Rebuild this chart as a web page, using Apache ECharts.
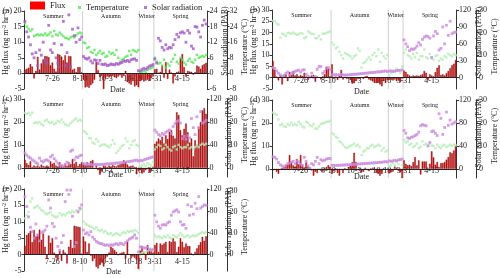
<!DOCTYPE html>
<html><head><meta charset="utf-8">
<script src="https://cdn.jsdelivr.net/npm/echarts@6/dist/echarts.min.js"></script>
<style>html,body{margin:0;padding:0;background:#fff}#c{width:500px;height:278px}</style>
</head><body><div id="c"></div>
<script>
// ---------- categories ----------
const dates = ['7-11','7-12','7-13','7-14','7-15','7-16','7-17','7-18','7-19','7-20','7-21','7-22','7-23','7-24','7-25','7-26','7-27','7-28','7-29','7-30','7-31','8-1','8-2','8-3','8-4','8-5','8-6','8-7','8-8','8-9','8-10','8-11',
'9-21','9-22','9-23','9-24','9-25','9-26','9-27','9-28','9-29','9-30','10-1','10-2','10-3','10-4','10-5','10-6','10-7','10-8','10-9','10-10','10-11','10-12','10-13','10-14','10-15','10-16','10-17','10-18','10-19','10-20','10-21',
'1-10','1-11','1-12','1-13','1-14','1-15','1-16','1-17',
'3-31','4-1','4-2','4-3','4-4','4-5','4-6','4-7','4-8','4-9','4-10','4-11','4-12','4-13','4-14','4-15','4-16','4-17','4-18','4-19','4-20','4-21','4-22','4-23','4-24','4-25','4-26','4-27','4-28'];
const tickDates = ['7-26','8-10','10-3','10-18','3-31','4-15'];
const seasons = ['Summer','Autumn','Winter','Spring'];
const seasonFirstDate = ['7-11','9-21','1-10','3-31'];
const panelLabels = ['(a)','(b)','(c)','(d)','(e)'];
// ---------- tick labels ----------
const solarTicksB = [0,30,60,90,120];
const solarTicksCDE = [0,40,80,120];
const tempTicksBCDE = [0,10,20,30];
const fluxTicksCD = [0,10,20,30];

// ---------- panel (a) ----------
const fluxA = [1.2,1.5,1.8,3.0,2.2,-1.6,0.8,5.3,1.2,3.2,4.5,5.6,5.5,5.2,2.6,3.5,1.5,0.6,6.2,6.0,5.4,4.2,5.8,3.5,5.6,5.5,1.2,1.5,0.4,2.0,2.0,0.3,
 -2.0,-4.5,-4.3,-4.6,-3.8,-3.2,-2.0,3.6,1.0,-1.2,-0.8,-5.0,-1.5,-1.0,-1.3,-1.0,-0.8,-1.2,-1.5,-1.0,-0.6,-1.4,-0.8,0.8,-2.8,-3.2,-3.6,-2.5,-4.2,-3.8,-4.4,
 -2.5,-2.0,-2.6,-2.3,-2.0,-2.4,-1.5,-1.0,
 1.3,1.5,0.2,0.5,2.6,-1.4,3.6,-1.8,1.2,0.3,-3.2,-1.0,0.4,0.6,4.8,6.2,2.0,-1.0,0.8,0.6,0.5,-0.4,0.4,2.5,2.2,1.5,2.6,3.0,3.4];
const tempA = [25.6,24,22.9,21.7,22.6,19.1,19.6,20,19.5,20,19.5,20.5,19.5,20,21,19,21.7,20,19.5,20.9,20,19,18.3,18,17.5,18.5,19,18.5,19.5,20.5,21,20.5,
 15.8,15.5,13,13.5,11,10.5,12,9.5,10.5,11.5,10,10.5,8.5,9,11,10,10.5,9.5,12,8,6,7,7.5,8.5,9,11.5,9.5,12,11.5,11,12,
 0.3,0.8,1.2,0.5,1.8,2.5,2.8,3.2,
 8,6,5,5.5,4,7,3,5,4,6,7.5,9.5,6,5,8,7,5.5,4.5,6.5,7.5,6,5.5,7,9.5,8,8.5,9,8.5,9.5];
const solarA = [20,16,14,11,7.5,6,8,3,9,7,12,5,4,18.5,9,8,11.5,6,4,2.5,11,20,3,8,22.5,2.5,17,14.5,12,17.5,13,14,
 6.5,5.8,5.5,6.0,4.8,4.0,5.2,5.0,3.8,5.0,3.5,3.4,3.6,3.0,3.2,3.6,3.4,3.3,3.8,3.5,3.9,4.2,4.8,4.6,5.0,4.5,5.2,5.5,5.6,5.0,1.0,
 1.0,1.5,2.0,1.6,2.2,2.8,3.0,3.4,
 5.5,4,13.5,12.5,10,9,11,9.5,10,9.8,11,13,15,14,15.6,16,15.5,12,16.5,15.5,10.5,9.5,18,17.8,16,14,18.5,20.5,19];

// ---------- panel (b) ----------
const fluxB = [7.4,3.5,0.5,-1.2,1.0,-3.0,1.0,1.5,-1.5,2.5,1.2,3.0,1.0,1.5,0.6,1.2,0.8,2.2,0.5,-1.0,0.4,1.0,1.2,-1.8,0.5,0.3,-0.8,0.6,1.5,4.8,4.0,0.6,
 5.9,-0.4,0.5,-1.0,1.0,3.4,-0.8,0.4,-0.5,-0.3,-1.0,-2.6,-2.4,-1.2,-0.6,-0.4,0.3,-0.5,0.6,0.8,-0.8,-1.2,-1.6,-2.0,-2.4,-2.2,-3.0,-3.8,-1.5,-2.0,-1.0,
 -0.5,-1.0,-1.2,-0.8,-1.5,-1.0,-2.0,-0.3,
 3.2,2.6,1.5,1.0,0.6,1.0,0.8,1.0,0.8,1.2,1.5,3.0,2.2,-1.0,1.5,1.0,0.6,2.5,4.4,5.5,1.2,1.5,1.0,2.0,3.0,4.2,5.5,6.2,7.8];
const tempB = [25.2,25,24,23.5,17.8,19.5,19.2,18.5,19.8,19.8,19.5,20,19.5,19,19.3,19.8,19.5,17.5,18,20.5,20,19.5,19.3,17.5,17.5,18.5,17,19.5,19.5,19.8,20.2,20.5,
 15.5,14.5,13,13.5,11.5,10,8.5,11,10.5,10,9.5,8.5,9.5,10,13,12,4.5,6.5,7,8,9,8,10,11,9.5,12.5,7,11,9.5,8.5,10,
 1,2,3,2.5,4,3.5,2,5,
 11,12.5,10,9.5,8.5,10.5,9,11,8,9.5,9.5,12.5,9,8.5,10.5,8.5,8,9.5,10,7.5,8.5,8,9.5,9,10.5,10,9.5,10.5,10];
const solarB = [18,16.5,12,8,5,2.5,4,7.5,10,4.5,8,9,11,12.5,13.5,10,13.5,14,6,3,1,8,0.5,2,15,20,19.5,8,11,17,18,15,
 5,5,5.5,5,5,5.5,5,4.5,4.8,5,5.5,6,6,6.2,6.5,7,7.2,7.5,8,8.2,8.5,9,9.2,9.5,10,10.5,10.2,11,11.5,12,11,
 12,12,11,12,12.5,13,13,14,
 67,60,55,48,51,50,52,56,62,58,68,72,74,73,70,36,74,82,78,49,52,90,60,93,75,100,78,80,81];

// ---------- panel (c) ----------
const fluxC = [3.5,2.0,1.2,2.8,0.4,1.0,0.6,1.0,0.5,1.4,0.8,0.6,1.0,0.6,2.8,1.8,2.2,1.0,0.6,2.4,1.0,0.6,1.6,0.8,2.4,1.6,3.8,1.8,2.6,0.8,1.6,2.4,
 2.0,1.2,2.4,1.2,2.9,3.4,-0.4,1.0,-1.0,-3.0,-1.6,1.0,0.8,0.4,1.0,0.6,1.2,0.8,0.6,1.2,1.5,1.8,3.3,2.6,1.4,0.6,0.8,1.0,0.4,-2.8,-1.2,
 -1.0,-2.5,-2.0,-1.0,-0.5,-2.0,-1.5,0.5,
 10.5,11.5,12.8,12.0,13.5,10.6,14.2,12.5,15.7,16.4,14.0,12.8,24.2,23.0,16.4,14.2,17.0,19.3,15.5,11.0,12.8,5.0,12.0,10.0,17.9,20.0,25.0,26.0,23.5];
const tempC = [24,23.5,24,23,24,19.5,19.8,19.5,20,19,18.5,20.5,21,20,19.5,20,19,19.5,20.5,20,21,19.8,19,18.5,18.5,19.5,20.2,21,21.5,20.5,21,20.5,
 16,15.5,14.8,13,12.8,11,10.5,12.5,11.5,9.5,10,10.2,10,9.5,9,10,12,10.5,6.5,7.5,8.5,9.5,10,12.8,11.5,8.5,10,11.5,12,10,9.5,
 0.5,1,1.5,0.8,2,1.5,1,2.5,
 8,9,10,9.5,8,8.5,10,9,8,7.5,9,9.5,8,10,9,8.5,9,9,10,8.5,9,8,9,9.5,9,10,10.5,10,10.5];
const solarC = [26,22,19,17,14,12,9,7,17,12,10,13,14,12,19,22,16,12,8,5,4,3,6,10,7,29,31,14,19,18,21,22,
 7,6.5,6,6.5,6,5.5,5.8,6,5.5,5.8,6,6.2,6.5,6.8,7,7.2,7.5,8,8.2,8.5,8.8,9,9.5,10,10.5,11,11.5,12,13,13.5,12,
 13,12,14,15,16,17,18,19,
 66,62,58,56,60,58,62,64,66,60,72,77,81,82,78,51,55,50,56,52,86,70,58,89,70,98,78,80,83];

// ---------- panel (d) ----------
const fluxD = [-0.7,-0.5,-1.2,-2.2,-0.3,0.4,0.8,1.5,1.8,6.0,2.9,1.5,1.0,4.3,2.0,6.0,1.5,0.6,2.8,1.2,0.6,-0.7,-3.0,-1.2,-1.8,-0.3,-0.8,-1.2,0.4,0.8,1.6,0.8,
 -2.2,-1.0,0.2,-1.8,-3.0,-0.6,-1.8,0.3,-0.6,0.8,1.4,2.8,7.0,3.0,-0.6,0.2,-1.6,-1.2,0.5,-0.6,-1.0,0.2,0.5,0.3,-1.8,-2.2,-3.0,-2.2,0.3,-0.4,-0.2,
 -2.0,-1.5,-1.2,1.0,0.5,-0.8,-1.5,-4.2,
 3.7,2.2,1.5,1.8,1.2,2.9,5.1,1.5,3.7,-2.5,3.2,3.2,3.2,0.2,2.2,7.6,5.0,1.8,3.0,0.8,2.5,2.5,3.0,4.0,5.1,7.2,6.8,8.0,10.0];
const tempD = [24.5,24,23.5,21.5,19,19.5,18.5,18.3,19.5,19,20,19,19.5,19,20.5,19.5,18.5,18,20.5,20,19,18.5,19.5,17.5,17.5,18.5,19.5,19.8,20,20.5,20.5,21,
 15.5,15,14,13.5,12,11.5,10.5,9.5,9,9.5,10,10.5,11,10,10.5,9.5,6,7.5,8,9,9,10,10.5,9.5,10,10.5,10,8,9,7.5,8,
 1,1.5,2.5,1.5,3,2,4,1.5,
 12.5,11.5,12,10.5,11,9.5,10,11,9,9.5,12,10.5,11,10,11,10.2,10,9,10.5,9.5,9,10,10.5,9.5,10,10.5,10,10.5,10.2];
const solarD = [21,20,17,11,7,5,3,6,9,10,11.5,13,9,14,12,8,6,20,13,5,1,9,7,13,20,9,16,14,15,17,18,18,
 6,6,6,6.2,6,6.5,6.5,6.8,7,7,7.2,7.5,7.8,8,8.2,8.5,8.8,9,9.2,9.5,9.8,10,10.2,10.5,10.8,11,11.2,11.5,12,12.5,12,
 14,13,14,15,14,15.5,16,17,
 67,62,54,53,55,56,58,60,64,75,77,76,75,40,46,65,66,62,58,96,88,60,72,99,76,85,78,80,82];

// ---------- panel (e) ----------
const fluxE = [2.7,6.0,6.5,7.2,3.8,7.5,5.5,6.2,7.6,4.5,6.4,2.4,-1.2,5.8,3.6,5.0,0.6,-1.0,-1.6,1.2,-1.9,1.4,0.6,-2.7,2.4,4.5,2.0,8.8,8.6,8.5,8.4,0.3,
 5.5,4.0,0.8,3.4,-0.3,-2.0,-1.2,-3.7,-4.2,-3.2,-2.4,-3.6,-1.2,-0.6,0.6,2.4,1.9,1.4,0.8,-0.2,0.4,0.6,0.8,-1.2,3.9,0.1,-1.2,-0.6,-1.0,-1.6,-4.4,
 1.2,2.7,0.8,-1.6,2.9,1.4,1.0,0.6,
 2.9,3.6,0.8,3.4,3.0,3.4,3.9,0.8,4.1,3.8,5.0,4.0,0.8,2.4,5.0,3.9,2.2,3.4,2.6,2.6,0.4,-0.2,0.8,1.9,2.9,3.8,5.4,4.2,5.6];
const tempE = [17,18.5,20,25,26.5,22,22.5,23,22,21,20.5,19.5,19,19.5,20,18.5,18,17.5,18,19.5,18.5,19,18.5,19.5,20,19.5,20.5,20,21,20.5,21,21.5,
 15.5,14.5,14,13.5,13,12.5,12,12.8,11.5,11,11.5,10.5,11,10,9.5,10,9,9.5,10,9.5,9,10,10.5,10,11,10.5,11,10.8,11.5,11,10,
 0,0.5,1,0.8,1.5,2,2.5,2,
 9,8,8.5,8,7.5,8.5,8,9,8,7.5,9,8.5,8,9,10,9,8,8.5,9,8,8.5,9,8.5,9,9.5,10,10.5,10,10.5];
const solarE = [106,88,69,50,42,30,56,36,25,40,42,45,52,100,85,57,51,30,15,8,22,35,97,118,110,118,70,15,22,78,85,91,
 45,38,40,36,42,32,28,24,22,20,20,18,17,18,16,18,17,19,20,18,21,20,18,22,25,28,30,32,36,30,5,
 14,13,12,12,14,10,8,9,
 72,60,52,48,54,55,54,58,60,72,78,80,82,78,60,54,55,48,91,72,88,74,94,84,106,85,88,91,90];

// ---------- layout / style ----------
const FONT = "'Liberation Serif','Times New Roman',serif";
const TXT = '#1a1a1a';
const panels = [
 {flux:fluxA,temp:tempA,solar:solarA,grid:{left:24,top:11,width:183,height:78},
  fAx:{min:-5,max:20,interval:5}, sAx:{min:-6,max:24,interval:6}, tAx:{min:-8,max:32,interval:8},
  lblMargin:-14, dateY:90, dateDx:2, tCol:'#55e655', sCol:'#a456c8', sGap:11, tGap:10, shF:8, shS:9, shT:3},
 {flux:fluxB,temp:tempB,solar:solarB,grid:{left:272,top:10,width:185,height:79},
  fAx:{min:-5,max:30,interval:5}, sAx:{min:-20,max:120,ticks:solarTicksB}, tAx:{min:-5,max:30,ticks:tempTicksBCDE},
  lblMargin:-12, dateY:92, dateDx:-3, tCol:'#b4ecb4', sCol:'#c98ade', sGap:9, tGap:14, shF:8, shS:8, shT:3},
 {flux:fluxC,temp:tempC,solar:solarC,grid:{left:24,top:99,width:183,height:78},
  fAx:{min:-4,max:30,ticks:fluxTicksCD}, sAx:{min:-16,max:120,ticks:solarTicksCDE}, tAx:{min:-4,max:30,ticks:tempTicksBCDE},
  lblMargin:-10, dateY:175, dateDx:0, tCol:'#b4ecb4', sCol:'#c98ade', sGap:11, tGap:10, shF:6, shS:6, shT:3},
 {flux:fluxD,temp:tempD,solar:solarD,grid:{left:272,top:100,width:185,height:78},
  fAx:{min:-4,max:30,ticks:fluxTicksCD}, sAx:{min:-16,max:120,ticks:solarTicksCDE}, tAx:{min:-4,max:30,ticks:tempTicksBCDE},
  lblMargin:-11.5, dateY:176.5, dateDx:-3, tCol:'#b4ecb4', sCol:'#c98ade', sGap:9, tGap:14, shF:6, shS:6, shT:3},
 {flux:fluxE,temp:tempE,solar:solarE,grid:{left:24,top:189,width:183,height:82},
  fAx:{min:-5,max:20,interval:5}, sAx:{min:-30,max:120,ticks:solarTicksCDE}, tAx:{min:-8,max:31,ticks:tempTicksBCDE},
  lblMargin:-13, dateY:272, dateDx:-2, tCol:'#b4ecb4', sCol:'#c98ade', sGap:11, tGap:10, shF:10, shS:8, shT:3}
];

function yAx(gi, pos, offset, r, name, gap, shift, rich) {
  const a = {type:'value', gridIndex:gi, position:pos, offset:offset, min:r.min, max:r.max,
    splitLine:{show:false},
    axisLine:{show:true, onZero:false, lineStyle:{color:'#333', width:1}},
    axisTick:{show:true, length:2.5, lineStyle:{color:'#333'}},
    axisLabel:{fontSize:8, fontFamily:FONT, color:TXT, margin:2.5},
    name:name, nameLocation:'middle', nameGap:gap,
    nameTextStyle:{fontSize:8, fontFamily:FONT, color:TXT, padding:[0,0,0,shift*2]}};
  if (rich) a.nameTextStyle.rich = rich;
  if (r.interval) a.interval = r.interval;
  if (r.ticks) { a.axisLabel.customValues = r.ticks; a.axisTick.customValues = r.ticks; }
  return a;
}
const supRich = {s:{fontSize:5.5, fontFamily:FONT, color:TXT, verticalAlign:'top', padding:[0,0,3,0]}};

const grids=[], xAxes=[], yAxes=[], series=[];
panels.forEach((p,gi)=>{
  grids.push(Object.assign({containLabel:false}, p.grid));
  xAxes.push({type:'category', gridIndex:gi, data:dates, boundaryGap:true, position:'bottom',
    axisLine:{show:false, onZero:false},
    axisTick:{show:false},
    axisLabel:{interval:(i,v)=>tickDates.includes(v), fontSize:8, fontFamily:FONT, color:TXT, margin:p.lblMargin}});
  yAxes.push(yAx(gi,'left',0,p.fAx,'Hg flux (ng m{s|-2} hr{s|-1})',12,p.shF,supRich));
  yAxes.push(yAx(gi,'right',0,p.sAx,'Solar radiation (PAR)',p.sGap,p.shS));
  yAxes.push(yAx(gi,'right',20,p.tAx,'Temperature (°C)',p.tGap,p.shT));
  series.push({type:'bar', name:'Flux', xAxisIndex:gi, yAxisIndex:gi*3, data:p.flux,
    barCategoryGap:'18%', itemStyle:{color:'#e01212', borderColor:'#7a0000', borderWidth:0.4}, z:2,
    markLine:{silent:true, symbol:'none', label:{show:false}, animation:false,
      lineStyle:{color:'#222', width:1, type:'solid'}, data:[{yAxis:0}]}});
  series.push({type:'scatter', name:'Temperature', xAxisIndex:gi, yAxisIndex:gi*3+2, data:p.temp,
    symbol:'rect', symbolSize:2.4, itemStyle:{color:p.tCol}, z:3});
  series.push({type:'scatter', name:'Solar radiation', xAxisIndex:gi, yAxisIndex:gi*3+1, data:p.solar,
    symbol:'rect', symbolSize:2.8, itemStyle:{color:p.sCol}, z:4});
});

const legTS = {fontSize:8.5, fontFamily:FONT, color:TXT};
const legends = [
  {data:[{name:'Flux', itemStyle:{color:'#ff0000', borderWidth:0}}], left:30, top:1, itemWidth:15, itemHeight:8, icon:'rect', textStyle:legTS, padding:0},
  {data:[{name:'Temperature', itemStyle:{color:'#55e655'}}], left:78, top:1, itemWidth:3, itemHeight:3, icon:'rect', textStyle:legTS, padding:[2,0,0,0]},
  {data:[{name:'Solar radiation', itemStyle:{color:'#a456c8'}}], left:144, top:1, itemWidth:3, itemHeight:3, icon:'rect', textStyle:legTS, padding:[2,0,0,0]}
];

const chart = echarts.init(document.getElementById('c'));
chart.setOption({animation:false, backgroundColor:'#fff', grid:grids, xAxis:xAxes, yAxis:yAxes, series:series, legend:legends});

// season separators, season names, panel letters, axis title "Date"
const gfx=[];
panels.forEach((p,gi)=>{
  const g=p.grid, x0=g.left, x1=g.left+g.width, y0=g.top, y1=g.top+g.height;
  const bounds=[x0];
  seasonFirstDate.forEach((d,k)=>{
    if(k===0) return;
    const idx=dates.indexOf(d);
    const a=chart.convertToPixel({xAxisIndex:gi}, idx-1), b=chart.convertToPixel({xAxisIndex:gi}, idx);
    const xb=(a+b)/2; bounds.push(xb);
    gfx.push({type:'line', shape:{x1:xb,y1:y0,x2:xb,y2:y1}, style:{stroke:'#cfcfcf', lineWidth:1}, silent:true, z:0});
  });
  bounds.push(x1);
  seasons.forEach((s,k)=>{
    gfx.push({type:'text', x:(bounds[k]+bounds[k+1])/2, y:y0+5, style:{text:s, fontSize:6, fontFamily:FONT, fill:TXT, align:'center', verticalAlign:'middle'}, silent:true, z:10});
  });
  gfx.push({type:'text', x:x0-12, y:y0, style:{text:panelLabels[gi], fontSize:8.5, fontFamily:FONT, fill:TXT, align:'right', verticalAlign:'middle'}, silent:true, z:10});
  gfx.push({type:'text', x:(x0+x1)/2+p.dateDx, y:p.dateY, style:{text:'Date', fontSize:8, fontFamily:FONT, fill:TXT, align:'center', verticalAlign:'middle'}, silent:true, z:10});
});
chart.setOption({graphic:gfx});
</script></body></html>
